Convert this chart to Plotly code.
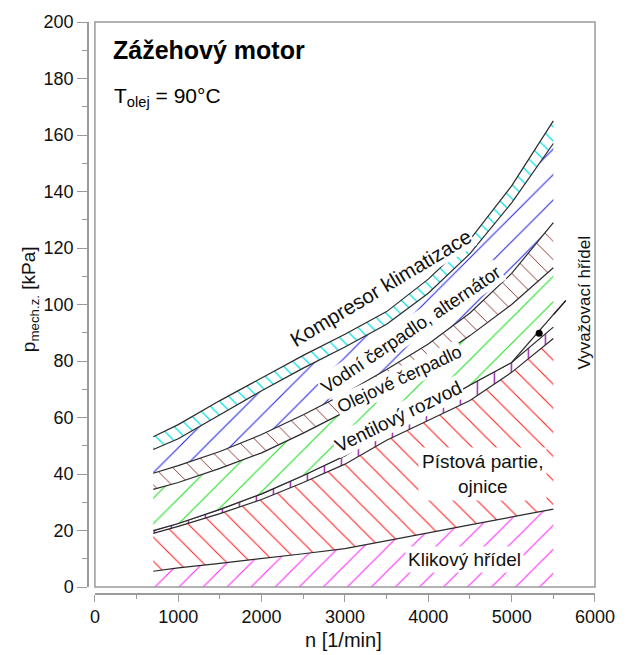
import plotly.graph_objects as go

# Engine speed [1/min] at which the loss components were evaluated
n = [700, 1000, 1500, 2000, 2500, 3000, 3500, 4000, 4500, 5000, 5500]

# Cumulative mechanical loss pressure [kPa] - upper edge of each component band
klikovy_hridel = [5.6, 6.8, 8.4, 10.0, 11.8, 13.6, 16.3, 19.2, 22.0, 24.8, 27.6]
pistova_partie = [19.0, 21.5, 26.0, 31.0, 37.0, 43.5, 52.0, 59.0, 66.0, 76.0, 88.0]
vyvazovaci_hridel = [20.0, 22.5, 27.5, 33.0, 39.5, 46.5, 55.5, 63.0, 71.5, 79.5, 92.0]
rozvod_spodni = [20.0, 22.5, 27.5, 33.0, 39.5, 46.5, 55.5, 63.0, 71.5, 79.5, 96.4]
ventilovy_rozvod = [34.6, 37.0, 42.0, 47.5, 54.5, 62.0, 70.0, 79.0, 89.0, 100.0, 113.0]
olejove_cerpadlo = [40.3, 43.0, 48.0, 54.0, 61.0, 68.5, 77.0, 86.0, 97.0, 111.0, 129.0]
vodni_cerpadlo = [48.7, 52.5, 61.0, 69.5, 77.5, 85.0, 93.0, 104.0, 118.0, 136.0, 157.0]
kompresor = [53.2, 57.5, 66.0, 74.0, 82.0, 89.5, 97.5, 109.0, 123.0, 142.0, 165.0]

# Leader towards the balance-shaft label and its marker point
odkaz_n = [5500, 5650]
odkaz_p = [96.4, 101.4]
bod_n = [5330]
bod_p = [89.8]

x_ticks = [0, 1000, 2000, 3000, 4000, 5000, 6000]
y_ticks = [0, 20, 40, 60, 80, 100, 120, 140, 160, 180, 200]

FONT = "Liberation Sans, Arial, sans-serif"
EDGE = "#2a2a2a"
AXIS = "#9a9a9a"

fig = go.Figure()

bands = [
    (klikovy_hridel, "tozeroy", dict(shape="/", fgcolor="#ff22ff", size=17, solidity=0.06)),
    (pistova_partie, "tonexty", dict(shape="\\", fgcolor="#ff1a1a", size=17, solidity=0.06)),
    (vyvazovaci_hridel, "tonexty", dict(shape="|", fgcolor="#9a30b4", size=17, solidity=0.09)),
    (rozvod_spodni, "tonexty", None),
    (ventilovy_rozvod, "tonexty", dict(shape="/", fgcolor="#1ee01e", size=18, solidity=0.06)),
    (olejove_cerpadlo, "tonexty", dict(shape="\\", fgcolor="#8b2a2a", size=13, solidity=0.07)),
    (vodni_cerpadlo, "tonexty", dict(shape="/", fgcolor="#2626e8", size=18, solidity=0.06)),
    (kompresor, "tonexty", dict(shape="\\", fgcolor="#00e0e8", size=10, solidity=0.12)),
]

for values, fill, pattern in bands:
    kw = dict(x=n, y=values, mode="lines", line=dict(color=EDGE, width=1.2),
              showlegend=False, hoverinfo="skip", fill=fill, fillcolor="white")
    if pattern is not None:
        kw["fillpattern"] = dict(pattern, bgcolor="white", fgopacity=1)
    fig.add_trace(go.Scatter(**kw))

fig.add_trace(go.Scatter(x=odkaz_n, y=odkaz_p, mode="lines",
                         line=dict(color="#111", width=1.4),
                         showlegend=False, hoverinfo="skip"))
fig.add_trace(go.Scatter(x=bod_n, y=bod_p, mode="markers",
                         marker=dict(color="#000", size=7),
                         showlegend=False, hoverinfo="skip"))


def label(text, x, y, angle=0, size=19, pad=1):
    fig.add_annotation(text=text, x=x, y=y, xref="x", yref="y", showarrow=False,
                       textangle=angle, bgcolor="white", borderpad=pad,
                       font=dict(family=FONT, size=size, color="#111"))


label("Kompresor klimatizace", 3430, 106.0, -31, size=20.5)
label("Vodní čerpadlo, alternátor", 3790, 91.0, -34, size=18.5)
label("Olejové čerpadlo", 3660, 73.5, -25, size=18)
label("Ventilový rozvod", 3640, 60.5, -26, size=19)
label("Pístová partie,<br>ojnice", 4650, 40.0, 0, size=19, pad=3)
label("Klikový hřídel", 4440, 9.8, 0, size=19, pad=2)
fig.add_annotation(text="Vyvažovací hřídel", x=5880, y=100.7, xref="x", yref="y",
                   showarrow=False, textangle=-90,
                   font=dict(family=FONT, size=17, color="#111"))

# heading inside the frame
fig.add_annotation(text="<b>Zážehový motor</b>", x=190, y=190.0, xref="x", yref="y",
                   xanchor="left", yanchor="middle", showarrow=False,
                   font=dict(family=FONT, size=25, color="#000"))
fig.add_annotation(text="T<sub>olej</sub> = 90°C", x=200, y=173.3, xref="x", yref="y",
                   xanchor="left", yanchor="middle", showarrow=False,
                   font=dict(family=FONT, size=21, color="#000"))

# axis titles
fig.add_annotation(text="p<sub>mech.z.</sub> [kPa]", x=-0.113, y=0.515,
                   xref="paper", yref="paper", xanchor="center", yanchor="middle",
                   showarrow=False, textangle=-90,
                   font=dict(family=FONT, size=19, color="#111"))
fig.add_annotation(text="n [1/min]", x=0.503, y=-0.08, xref="paper", yref="paper",
                   xanchor="center", yanchor="middle",
                   showarrow=False, font=dict(family=FONT, size=20, color="#111"))

# plot frame
fig.add_shape(type="rect", xref="x domain", yref="y domain", x0=0, x1=1, y0=0, y1=1,
              line=dict(color=AXIS, width=1.5), layer="above")

fig.update_xaxes(range=[0, 6000], domain=[0.0136, 1], anchor="free", position=0,
                 tickvals=x_ticks, ticks="outside", ticklen=7, tickwidth=1.2,
                 tickcolor=AXIS, showline=True, linecolor=AXIS, linewidth=1.5,
                 showgrid=False, zeroline=False,
                 minor=dict(dtick=500, ticks="outside", ticklen=4, tickcolor=AXIS, showgrid=False),
                 tickfont=dict(family=FONT, size=18, color="#111"))
fig.update_yaxes(range=[0, 200], domain=[0.0121, 1], anchor="free", position=0,
                 tickvals=y_ticks, ticks="outside", ticklen=10, tickwidth=1.2,
                 tickcolor=AXIS, showline=True, linecolor=AXIS, linewidth=1.5,
                 showgrid=False, zeroline=False,
                 minor=dict(dtick=10, ticks="outside", ticklen=5, tickcolor=AXIS, showgrid=False),
                 tickfont=dict(family=FONT, size=18, color="#111"))

fig.update_layout(width=627, height=655, margin=dict(l=88, r=26, t=17, b=61),
                  paper_bgcolor="white", plot_bgcolor="white")

fig.write_html("out.html")
